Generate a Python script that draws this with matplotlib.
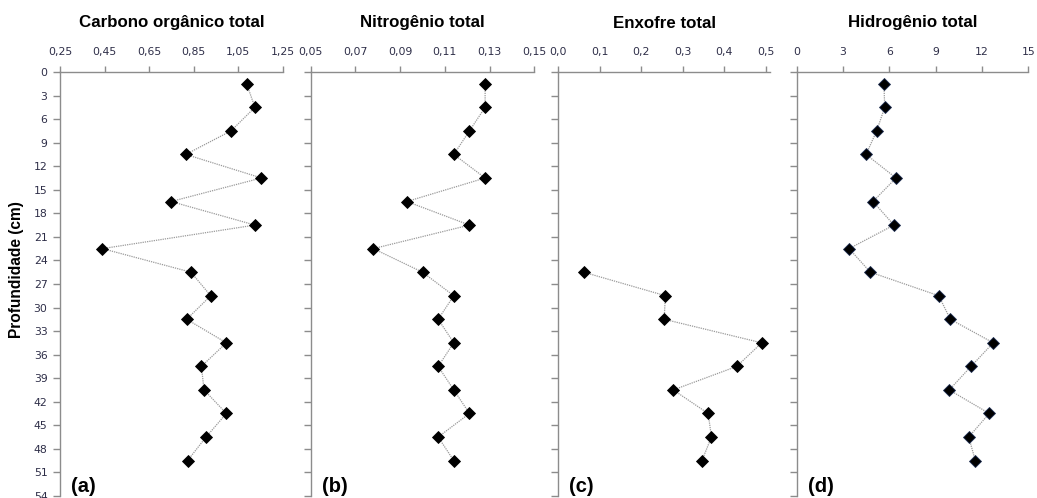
import matplotlib
matplotlib.use("Agg")
import matplotlib.pyplot as plt

depth = [1.5, 4.5, 7.5, 10.5, 13.5, 16.5, 19.5, 22.5, 25.5, 28.5, 31.5,
         34.5, 37.5, 40.5, 43.5, 46.5, 49.5]
carbono = [1.087, 1.124, 1.017, 0.814, 1.153, 0.748, 1.124, 0.440, 0.837,
           0.926, 0.818, 0.996, 0.884, 0.896, 0.996, 0.905, 0.822]
nitrogenio = [0.128, 0.128, 0.121, 0.114, 0.128, 0.093, 0.121, 0.078, 0.100,
              0.114, 0.107, 0.114, 0.107, 0.114, 0.121, 0.107, 0.114]
depth_s = [25.5, 28.5, 31.5, 34.5, 37.5, 40.5, 43.5, 46.5, 49.5]
enxofre = [0.061, 0.258, 0.255, 0.490, 0.430, 0.277, 0.361, 0.369, 0.346]
hidrogenio = [5.65, 5.70, 5.18, 4.49, 6.43, 4.94, 6.30, 3.39, 4.77, 9.20,
              9.95, 12.73, 11.29, 9.88, 12.47, 11.14, 11.57]

titles = ["Carbono orgânico total", "Nitrogênio total", "Enxofre total", "Hidrogênio total"]
panel_labels = ["(a)", "(b)", "(c)", "(d)"]
xticks_list = [[0.25, 0.45, 0.65, 0.85, 1.05, 1.25],
               [0.05, 0.07, 0.09, 0.11, 0.13, 0.15],
               [0.0, 0.1, 0.2, 0.3, 0.4, 0.5],
               [0, 3, 6, 9, 12, 15]]
xticklabels_list = [["0,25", "0,45", "0,65", "0,85", "1,05", "1,25"],
                    ["0,05", "0,07", "0,09", "0,11", "0,13", "0,15"],
                    ["0,0", "0,1", "0,2", "0,3", "0,4", "0,5"],
                    ["0", "3", "6", "9", "12", "15"]]
xlims = [(0.25, 1.25), (0.05, 0.15), (0.0, 0.51), (0, 15)]
yticks = list(range(0, 55, 3))

W, H = 1037, 498
fig = plt.figure(figsize=(W / 100, H / 100), dpi=100)
fig.patch.set_facecolor("white")

lefts = [60, 310.7, 558.3, 796.7]
rights = [283, 534.3, 770, 1028.3]
top_px, bot_px = 72, 495.9

data = [(carbono, depth), (nitrogenio, depth), (enxofre, depth_s), (hidrogenio, depth)]
spine_col = "#8c8c8c"
tick_col = "#2e2e48"

for i in range(4):
    ax = fig.add_axes([lefts[i] / W, 1 - bot_px / H, (rights[i] - lefts[i]) / W, (bot_px - top_px) / H])
    xs, ys = data[i]
    mec = "#1c2c50" if i == 3 else "black"
    ax.plot(xs, ys, linestyle=(0, (1, 0.8)), color="#9a9a9a", linewidth=0.9,
            marker="D", markersize=6.4, markerfacecolor="black", markeredgecolor=mec,
            markeredgewidth=0.6, zorder=3)
    ax.set_xlim(*xlims[i])
    ax.set_ylim(54, 0)
    ax.xaxis.tick_top()
    ax.set_xticks(xticks_list[i])
    ax.set_xticklabels(xticklabels_list[i])
    ax.set_yticks(yticks)
    if i == 0:
        ax.set_yticklabels([str(v) for v in yticks])
    else:
        ax.set_yticklabels([])
    for s in ["right", "bottom"]:
        ax.spines[s].set_visible(False)
    for s in ["left", "top"]:
        ax.spines[s].set_color(spine_col)
        ax.spines[s].set_linewidth(1.0)
    ax.tick_params(axis="x", direction="out", length=4, width=1, color=spine_col,
                   pad=7, labelsize=7.8, labelcolor=tick_col)
    ax.tick_params(axis="y", direction="out", length=5, width=1, color=spine_col,
                   pad=4, labelsize=7.8, labelcolor=tick_col)
    for lab in ax.get_xticklabels() + ax.get_yticklabels():
        lab.set_fontfamily("DejaVu Sans")
    cx = (lefts[i] + rights[i]) / 2
    fig.text(cx / W, 1 - 23 / H, titles[i], ha="center", va="center",
             fontsize=12.2, fontweight="bold", family="Liberation Sans")
    fig.text((lefts[i] + 11) / W, 1 - 486 / H, panel_labels[i], ha="left", va="center",
             fontsize=14.5, fontweight="bold", family="Liberation Sans")

fig.text(17 / W, 1 - 270 / H, "Profundidade (cm)", rotation=90, ha="center", va="center",
         fontsize=11.2, fontweight="bold", family="Liberation Sans")

fig.savefig("out.png", dpi=100, facecolor="white")
